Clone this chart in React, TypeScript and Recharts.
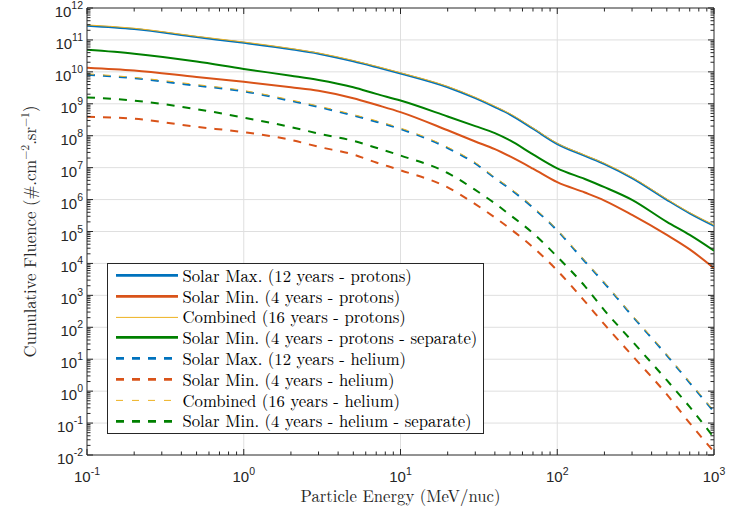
import { LineChart, Line, XAxis, YAxis, ReferenceLine } from 'recharts';

// particle energy (MeV/nuc) at which the curves were read
const energy = [0.1, 0.2, 0.5, 1, 2, 3, 5, 7, 10, 20, 30, 40, 50, 70, 100, 150, 200, 300, 500, 700, 1000];

// cumulative fluence, #/cm2/sr
const solarMaxProtons = [2.79e11, 2.19e11, 1.23e11, 8.1e10, 5.1e10, 3.7e10, 2.14e10, 1.41e10, 8.9e9, 3.3e9, 1.5e9, 7.9e8, 4.6e8, 1.66e8, 5.5e7, 2.34e7, 1.29e7, 4.7e6, 9.8e5, 3.7e5, 1.5e5];
const solarMinProtons = [1.35e10, 1.1e10, 6.9e9, 4.9e9, 3.3e9, 2.57e9, 1.5e9, 9.3e8, 5.5e8, 1.48e8, 6.6e7, 3.8e7, 2.24e7, 9.3e6, 3.5e6, 1.66e6, 9.3e5, 3.3e5, 7.8e4, 2.75e4, 7.1e3];
const combinedProtons = [2.95e11, 2.32e11, 1.3e11, 8.6e10, 5.4e10, 3.9e10, 2.27e10, 1.5e10, 9.4e9, 3.5e9, 1.6e9, 8.4e8, 4.9e8, 1.76e8, 5.8e7, 2.48e7, 1.37e7, 5.0e6, 1.04e6, 3.9e5, 1.6e5];
const solarMinProtonsSep = [4.9e10, 3.7e10, 2.1e10, 1.23e10, 7.6e9, 5.6e9, 3.3e9, 2.04e9, 1.26e9, 4.0e8, 2.0e8, 1.2e8, 7.1e7, 2.6e7, 9.5e6, 4.4e6, 2.45e6, 9.8e5, 2.0e5, 7.8e4, 2.5e4];
const solarMaxHelium = [8.1e9, 6.3e9, 3.7e9, 2.45e9, 1.23e9, 7.9e8, 4.3e8, 2.75e8, 1.62e8, 4.1e7, 1.35e7, 4.7e6, 2.14e6, 5.6e5, 1.07e5, 1.15e4, 2.4e3, 230, 13.2, 1.82, 0.224];
const solarMinHelium = [3.9e8, 3.4e8, 1.9e8, 1.29e8, 7.4e7, 4.5e7, 2.57e7, 1.45e7, 8.3e6, 2.4e6, 7.2e5, 2.75e5, 1.23e5, 3.2e4, 6.0e3, 650, 123, 13.2, 0.79, 0.1, 0.0126];
const combinedHelium = [8.7e9, 6.7e9, 4.0e9, 2.6e9, 1.32e9, 8.5e8, 4.6e8, 2.95e8, 1.74e8, 4.4e7, 1.45e7, 5.0e6, 2.3e6, 6.0e5, 1.14e5, 1.23e4, 2.55e3, 245, 14.1, 1.95, 0.24];
const solarMinHeliumSep = [1.58e9, 1.26e9, 6.8e8, 3.7e8, 1.86e8, 1.17e8, 6.9e7, 4.2e7, 2.4e7, 6.8e6, 2.0e6, 7.6e5, 3.3e5, 8.9e4, 1.62e4, 1.95e3, 340, 37, 2.2, 0.32, 0.035];

const xDecades = [0.1, 1, 10, 100, 1000];
const yDecades = [1e-2, 1e-1, 1, 1e1, 1e2, 1e3, 1e4, 1e5, 1e6, 1e7, 1e8, 1e9, 1e10, 1e11, 1e12];

const BLUE = '#0072BD';
const RED = '#D95319';
const YELLOW = '#EDB120';
const GREEN = '#008000';
const AXIS = '#262626';
const GRID = '#dfdfdf';
const SANS = '"Liberation Sans", Arial, Helvetica, sans-serif';
const SERIF = '"Latin Modern Roman", "Liberation Serif", serif';

const series = [
  { key: 'maxP', name: 'Solar Max. (12 years - protons)', values: solarMaxProtons, color: BLUE, width: 2, dash: undefined },
  { key: 'minP', name: 'Solar Min. (4 years - protons)', values: solarMinProtons, color: RED, width: 2, dash: undefined },
  { key: 'combP', name: 'Combined (16 years - protons)', values: combinedProtons, color: YELLOW, width: 1, dash: undefined },
  { key: 'minPSep', name: 'Solar Min. (4 years - protons - separate)', values: solarMinProtonsSep, color: GREEN, width: 2, dash: undefined },
  { key: 'maxHe', name: 'Solar Max. (12 years - helium)', values: solarMaxHelium, color: BLUE, width: 2, dash: '8 8' },
  { key: 'minHe', name: 'Solar Min. (4 years - helium)', values: solarMinHelium, color: RED, width: 2, dash: '8 8' },
  { key: 'combHe', name: 'Combined (16 years - helium)', values: combinedHelium, color: YELLOW, width: 1, dash: '7 9' },
  { key: 'minHeSep', name: 'Solar Min. (4 years - helium - separate)', values: solarMinHeliumSep, color: GREEN, width: 2, dash: '8 8' },
];

const data = energy.map((e, i) => {
  const row: Record<string, number> = { e };
  series.forEach((s) => {
    row[s.key] = s.values[i];
  });
  return row;
});

/** Decades plus the 2..9 minor ticks between them. */
function withMinors(decades: number[]) {
  const out: number[] = [];
  decades.forEach((d, i) => {
    out.push(d);
    if (i < decades.length - 1) {
      for (let m = 2; m <= 9; m++) out.push(d * m);
    }
  });
  return out;
}

const WIDTH = 729;
const HEIGHT = 521;
const MARGIN = { top: 8, right: 15, bottom: 0, left: 0 };
const Y_AXIS_WIDTH = 87;
const X_AXIS_HEIGHT = 66;
const PLOT_TOP = MARGIN.top;
const PLOT_RIGHT = WIDTH - MARGIN.right;
const PLOT_LEFT = MARGIN.left + Y_AXIS_WIDTH;
const PLOT_BOTTOM = HEIGHT - MARGIN.bottom - X_AXIS_HEIGHT;
const MAJOR_TICK = 6;
const MINOR_TICK = 3.5;

function decadeOf(v: number) {
  const p = Math.log10(v);
  return { p: Math.round(p), major: Math.abs(p - Math.round(p)) < 1e-6 };
}

/** Bottom tick, mirrored on the top edge of the box. */
function XTick(props: any) {
  const { x, y, payload } = props;
  const { p, major } = decadeOf(payload.value);
  const len = major ? MAJOR_TICK : MINOR_TICK;
  return (
    <g>
      <line x1={x} y1={y} x2={x} y2={y - len} stroke={AXIS} />
      <line x1={x} y1={PLOT_TOP} x2={x} y2={PLOT_TOP + len} stroke={AXIS} />
      {major && (
        <text x={x} y={y + 27} textAnchor="middle" fontFamily={SANS} fontSize={15} fill={AXIS}>
          10
          <tspan dy={-7} fontSize={10.5}>{p}</tspan>
        </text>
      )}
    </g>
  );
}

/** Left tick, mirrored on the right edge of the box. */
function YTick(props: any) {
  const { x, y, payload } = props;
  const { p, major } = decadeOf(payload.value);
  const len = major ? MAJOR_TICK : MINOR_TICK;
  return (
    <g>
      <line x1={x} y1={y} x2={x + len} y2={y} stroke={AXIS} />
      <line x1={PLOT_RIGHT} y1={y} x2={PLOT_RIGHT - len} y2={y} stroke={AXIS} />
      {major && (
        <text x={x - 4} y={y + 9} textAnchor="end" fontFamily={SANS} fontSize={15} fill={AXIS}>
          10
          <tspan dy={-8} fontSize={10.5}>{p}</tspan>
        </text>
      )}
    </g>
  );
}

function LegendBox() {
  return (
    <div
      style={{
        position: 'absolute',
        left: 107,
        top: 263,
        width: 377,
        height: 171,
        boxSizing: 'border-box',
        border: `1px solid ${AXIS}`,
        background: '#fff',
        paddingTop: 1,
      }}
    >
      {series.map((s) => (
        <div key={s.key} style={{ display: 'flex', alignItems: 'center', height: 20.8 }}>
          <svg width={70} height={20.8} style={{ flex: 'none' }}>
            <line
              x1={8}
              x2={70}
              y1={10.4}
              y2={10.4}
              stroke={s.color}
              strokeWidth={s.width === 2 ? 2.6 : 1}
              strokeDasharray={s.dash}
            />
          </svg>
          <span
            style={{
              display: 'block',
              marginLeft: 4.5,
              fontFamily: SERIF,
              fontSize: 16.7,
              lineHeight: '17px',
              height: 17,
              overflow: 'visible',
              whiteSpace: 'nowrap',
              color: '#000',
            }}
          >
            {s.name}
          </span>
        </div>
      ))}
    </div>
  );
}

export default function App() {
  const plotMidX = (PLOT_LEFT + PLOT_RIGHT) / 2;
  const plotMidY = (PLOT_TOP + PLOT_BOTTOM) / 2;
  return (
    <div style={{ position: 'absolute', left: 0, top: 0, width: WIDTH, height: HEIGHT, background: '#fff' }}>
      <LineChart width={WIDTH} height={HEIGHT} data={data} margin={MARGIN}>
        {xDecades.slice(1, -1).map((v) => (
          <ReferenceLine key={`gx${v}`} x={v} stroke={GRID} strokeWidth={1} />
        ))}
        {yDecades.slice(1, -1).map((v) => (
          <ReferenceLine key={`gy${v}`} y={v} stroke={GRID} strokeWidth={1} />
        ))}
        <XAxis
          dataKey="e"
          type="number"
          scale="log"
          domain={[0.1, 1000]}
          allowDataOverflow
          ticks={withMinors(xDecades)}
          interval={0}
          tickSize={0}
          tickMargin={0}
          tickLine={false}
          tick={<XTick />}
          height={X_AXIS_HEIGHT}
          axisLine={{ stroke: AXIS }}
        />
        <YAxis
          type="number"
          scale="log"
          domain={[1e-2, 1e12]}
          allowDataOverflow
          ticks={withMinors(yDecades)}
          interval={0}
          tickSize={0}
          tickMargin={0}
          tickLine={false}
          tick={<YTick />}
          width={Y_AXIS_WIDTH}
          axisLine={{ stroke: AXIS }}
        />
        <ReferenceLine y={1e12} stroke={AXIS} ifOverflow="visible" />
        <ReferenceLine x={1000} stroke={AXIS} ifOverflow="visible" />
        {series.map((s) => (
          <Line
            key={s.key}
            dataKey={s.key}
            name={s.name}
            type="monotoneX"
            stroke={s.color}
            strokeWidth={s.width}
            strokeDasharray={s.dash}
            dot={false}
            activeDot={false}
            isAnimationActive={false}
          />
        ))}
      </LineChart>
      <svg
        width={WIDTH}
        height={HEIGHT}
        style={{ position: 'absolute', left: 0, top: 0, pointerEvents: 'none' }}
      >
        <text x={plotMidX} y={502} textAnchor="middle" fontFamily={SERIF} fontSize={16.7} fill={AXIS}>
          Particle Energy (MeV/nuc)
        </text>
        <text
          x={36}
          y={plotMidY}
          transform={`rotate(-90 36 ${plotMidY})`}
          textAnchor="middle"
          fontFamily={SERIF}
          fontSize={16.7}
          fill={AXIS}
        >
          Cumulative Fluence (#.cm
          <tspan dy={-7} fontSize={11.7}>−2</tspan>
          <tspan dy={7}>.sr</tspan>
          <tspan dy={-7} fontSize={11.7}>−1</tspan>
          <tspan dy={7}>)</tspan>
        </text>
      </svg>
      <LegendBox />
    </div>
  );
}
